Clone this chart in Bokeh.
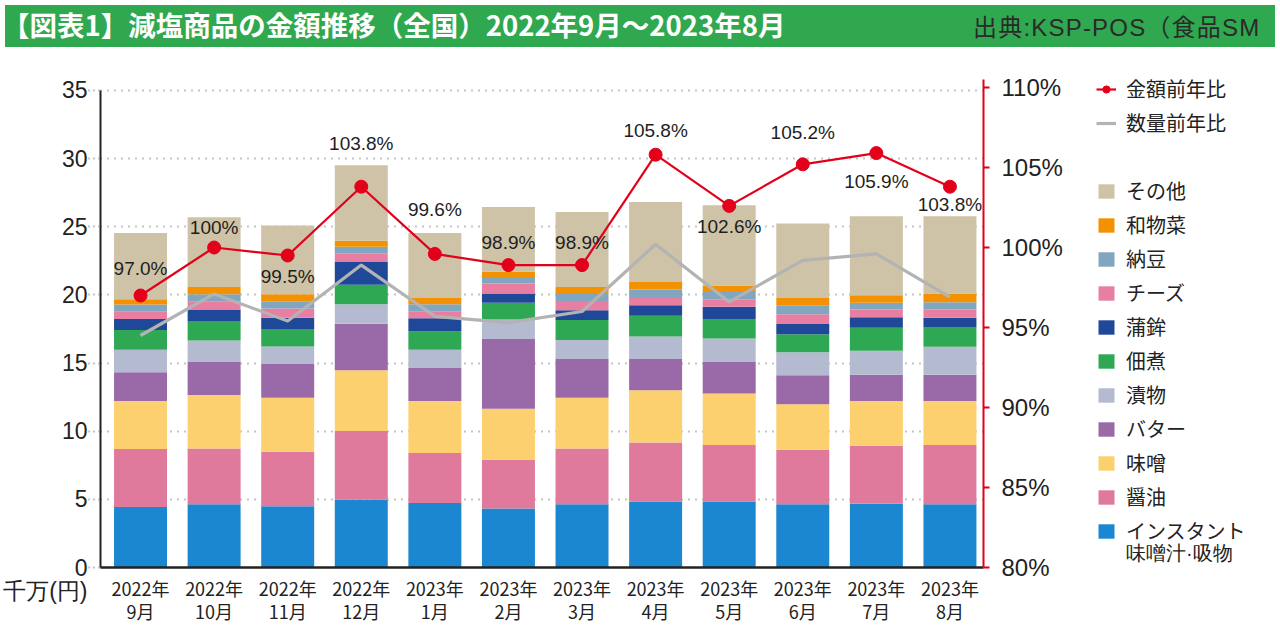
from bokeh.plotting import figure
from bokeh.layouts import column, row
from bokeh.models import (ColumnDataSource, Range1d, LinearAxis, FixedTicker, Legend,
                          LegendItem, PrintfTickFormatter, Div)
from bokeh.core.properties import value
from bokeh.embed import file_html
from bokeh.resources import INLINE

# ---------------- data ----------------
years = ["2022年"] * 4 + ["2023年"] * 8
months = ["9月", "10月", "11月", "12月", "1月", "2月", "3月", "4月", "5月", "6月", "7月", "8月"]

category_names = ["インスタント", "醤油", "味噌", "バター", "漬物", "佃煮",
                  "蒲鉾", "チーズ", "納豆", "和物菜", "その他"]
first_category_second_line = "味噌汁·吸物"

instant = [4.44, 4.64, 4.49, 4.98, 4.73, 4.32, 4.64, 4.85, 4.85, 4.64, 4.68, 4.64]
shoyu = [4.25, 4.10, 4.01, 5.04, 3.67, 3.59, 4.10, 4.32, 4.13, 4.00, 4.25, 4.34]
miso = [3.52, 3.91, 3.95, 4.45, 3.81, 3.74, 3.71, 3.84, 3.79, 3.33, 3.28, 3.23]
butter = [2.11, 2.47, 2.48, 3.42, 2.43, 5.12, 2.84, 2.28, 2.35, 2.13, 1.94, 1.94]
tsukemono = [1.65, 1.53, 1.28, 1.43, 1.33, 1.43, 1.41, 1.65, 1.68, 1.70, 1.75, 2.04]
tsukudani = [1.46, 1.43, 1.29, 1.43, 1.34, 1.22, 1.46, 1.53, 1.43, 1.31, 1.70, 1.46]
kamaboko = [0.80, 0.85, 0.83, 1.70, 0.97, 0.68, 0.72, 0.78, 0.90, 0.80, 0.77, 0.68]
cheese = [0.53, 0.56, 0.67, 0.61, 0.48, 0.73, 0.68, 0.53, 0.55, 0.68, 0.56, 0.60]
natto = [0.54, 0.56, 0.49, 0.48, 0.56, 0.41, 0.59, 0.61, 0.54, 0.61, 0.49, 0.54]
wasouzai = [0.38, 0.53, 0.56, 0.44, 0.46, 0.48, 0.43, 0.56, 0.48, 0.58, 0.56, 0.63]
other = [4.86, 5.12, 5.05, 5.53, 4.76, 4.74, 5.51, 5.87, 5.88, 5.46, 5.80, 5.68]

value_yoy = [97.0, 100.0, 99.5, 103.8, 99.6, 98.9, 98.9, 105.8, 102.6, 105.2, 105.9, 103.8]
value_yoy_text = ["97.0%", "100%", "99.5%", "103.8%", "99.6%", "98.9%", "98.9%",
                  "105.8%", "102.6%", "105.2%", "105.9%", "103.8%"]
qty_yoy = [94.5, 97.1, 95.4, 98.9, 95.7, 95.3, 96.0, 100.2, 96.6, 99.2, 99.6, 96.9]

left_ticks = [0, 5, 10, 15, 20, 25, 30, 35]
right_ticks = [80, 85, 90, 95, 100, 105, 110]

title_text = "【図表1】減塩商品の金額推移（全国）2022年9月～2023年8月"
source_text = "出典:KSP-POS（食品SM"
unit_text = "千万(円)"
legend_line_names = ["金額前年比", "数量前年比"]

# ---------------- styles ----------------
colors = ["#1b87d0", "#e07a9c", "#fcd06e", "#9a69a8", "#b4bbd0", "#2fa854",
          "#1f4898", "#e87fa3", "#80a7bf", "#f39100", "#cec3a7"]
label_offsets = [-27, -20, 21, -43, -44, -23, -23, -24, 21, -32, 28, 18]
RED = "#e2001a"
GRAY = "#b3b3b3"
GREEN = "#2fa84f"
JP = "Noto Sans CJK JP"
NUM = "Liberation Sans"
W, H, HEAD = 1280, 633, 47
FRAME_H = 567 - HEAD
PX_LEFT = 13.629   # px per 1 unit (千万円)
PX_RIGHT = 16.0    # px per 1 %
CHART_W = 1063

# ---------------- header ----------------
header = Div(
    text=(f'<div style="width:{W}px;height:{HEAD}px;background:#ffffff;position:relative;'
          f'overflow:hidden;">'
          f'<div style="position:absolute;left:5px;top:5px;width:{W - 10}px;height:{HEAD - 5}px;'
          f'background:{GREEN};"></div>'
          f'<span style="position:absolute;left:2px;top:3px;line-height:42px;'
          f'font-family:\'{JP}\';font-size:27.5px;font-weight:bold;color:#ffffff;'
          f'white-space:nowrap;">{title_text}</span>'
          f'<span style="position:absolute;left:973px;top:7px;line-height:42px;'
          f'font-family:\'{NUM}\',\'{JP}\';font-size:24px;letter-spacing:1.2px;'
          f'color:#2a2a2a;white-space:nowrap;">{source_text}</span></div>'),
    width=W, height=HEAD, margin=0)

# ---------------- chart ----------------
x = list(range(len(months)))
keys = ["instant", "shoyu", "miso", "butter", "tsukemono", "tsukudani",
        "kamaboko", "cheese", "natto", "wasouzai", "other"]
series = [instant, shoyu, miso, butter, tsukemono, tsukudani,
          kamaboko, cheese, natto, wasouzai, other]
data = {"x": x}
for k, s in zip(keys, series):
    data[k] = s
src = ColumnDataSource(data)

p = figure(frame_width=883, frame_height=FRAME_H,
           x_range=Range1d(-0.544, 11.456), y_range=Range1d(0, FRAME_H / PX_LEFT),
           output_backend="svg", toolbar_location=None,
           min_border_left=100, min_border_right=CHART_W - 983, min_border_top=0,
           min_border_bottom=H - 567, outline_line_color=None,
           background_fill_color="white", border_fill_color="white")
p.extra_y_ranges = {"pct": Range1d(80, 80 + FRAME_H / PX_RIGHT)}

bars = p.vbar_stack(keys, x="x", width=0.72, color=colors, line_color=None, source=src)

p.line(x, qty_yoy, y_range_name="pct", line_color=GRAY, line_width=3.2)
p.line(x, value_yoy, y_range_name="pct", line_color=RED, line_width=2.2)
p.scatter(x, value_yoy, y_range_name="pct", size=13, fill_color=RED,
          line_color=RED, marker="circle")

lab_src = ColumnDataSource(dict(x=x, y=value_yoy, t=value_yoy_text, off=label_offsets))
p.text(x="x", y="y", text="t", y_offset="off", source=lab_src, y_range_name="pct",
       text_font=value(NUM), text_font_size="19px", text_color="#1e1e1e",
       text_align="center", text_baseline="middle")

# grid
p.xgrid.visible = False
p.ygrid.ticker = FixedTicker(ticks=left_ticks[1:])
p.ygrid.grid_line_color = "#8a8a8a"
p.ygrid.grid_line_width = 2
p.ygrid.grid_line_dash = "1 6"
p.ygrid.level = "underlay"

# left axis (unit text as an extra line under the zero label)
ya = p.yaxis[0]
ya.ticker = FixedTicker(ticks=left_ticks)
ya.bounds = (0, 35)
ya.major_label_overrides = {0: "\n0\n" + unit_text}
ya.axis_line_color = "#222222"
ya.axis_line_width = 2
ya.major_tick_in = 0
ya.major_tick_out = 12
ya.major_tick_line_color = "#8a8a8a"
ya.major_tick_line_width = 2
ya.major_tick_line_dash = "1 4"
ya.minor_tick_line_color = None
ya.major_label_text_font = NUM
ya.major_label_text_font_size = "23px"
ya.major_label_text_line_height = 0.9
ya.major_label_text_color = "#222222"
ya.major_label_standoff = 1

# bottom axis
xa = p.xaxis[0]
xa.ticker = FixedTicker(ticks=x)
xa.major_label_overrides = {i: f"{years[i]}\n{months[i]}" for i in x}
xa.axis_line_color = "#222222"
xa.axis_line_width = 2.5
xa.major_tick_line_color = None
xa.minor_tick_line_color = None
xa.major_label_text_font = JP
xa.major_label_text_font_size = "18px"
xa.major_label_text_line_height = 0.92
xa.major_label_text_color = "#222222"
xa.major_label_standoff = 1

# right axis
ra = LinearAxis(y_range_name="pct", ticker=FixedTicker(ticks=right_ticks),
                formatter=PrintfTickFormatter(format="%d%%"), bounds=(80, 110.5))
ra.axis_line_color = RED
ra.axis_line_width = 2
ra.major_tick_line_color = RED
ra.major_tick_line_width = 2
ra.major_tick_in = 0
ra.major_tick_out = 6
ra.minor_tick_line_color = None
ra.major_label_text_font = NUM
ra.major_label_text_font_size = "24px"
ra.major_label_text_color = "#222222"
ra.major_label_standoff = 12
p.add_layout(ra, "right")

# ---------------- legend panel ----------------
lf = figure(width=W - CHART_W, height=H - HEAD, x_range=Range1d(0, 1), y_range=Range1d(0, 1),
            x_axis_type=None, y_axis_type=None, output_backend="svg",
            toolbar_location=None, min_border=0, outline_line_color=None,
            background_fill_color="white", border_fill_color="white")
lf.grid.visible = False
# legend-only renderers: their data lie outside the panel's ranges, so only the
# legend swatches are visible
off = [5.0, 6.0]
k_line = lf.line(off, off, line_color=RED, line_width=2.2)
k_dot = lf.scatter(off, off, size=13, fill_color=RED, line_color=RED, marker="circle")
q_line = lf.line(off, off, line_color=GRAY, line_width=3.2)
blank = lf.scatter(off, off, fill_alpha=0, line_alpha=0)
items = [LegendItem(label=legend_line_names[0], renderers=[k_line, k_dot], index=0),
         LegendItem(label=legend_line_names[1], renderers=[q_line]),
         LegendItem(label=" ", renderers=[blank])]
for name, c in reversed(list(zip(category_names, colors))):
    r = lf.vbar(x=off, top=off, bottom=off, width=0.5, fill_color=c, line_color=None)
    items.append(LegendItem(label=name, renderers=[r]))

legend_style = dict(orientation="vertical", border_line_color=None, background_fill_alpha=0,
                    glyph_width=20, glyph_height=18, spacing=5, margin=0,
                    padding=0, label_standoff=10, label_text_color="#222222",
                    label_text_font_size="20px")
leg = Legend(items=items, location=(31, 22), label_height=29, label_text_font=JP,
             **legend_style)
lf.add_layout(leg, "center")

# second line of the last legend label (no swatch)
leg2 = Legend(items=[LegendItem(label=first_category_second_line, renderers=[blank])],
              location=(31, 0), label_height=22, label_text_font=NUM, **legend_style)
lf.add_layout(leg2, "center")

layout = column(header, row(p, lf, spacing=0), spacing=0)
open("out.html", "w").write(file_html(layout, INLINE))
